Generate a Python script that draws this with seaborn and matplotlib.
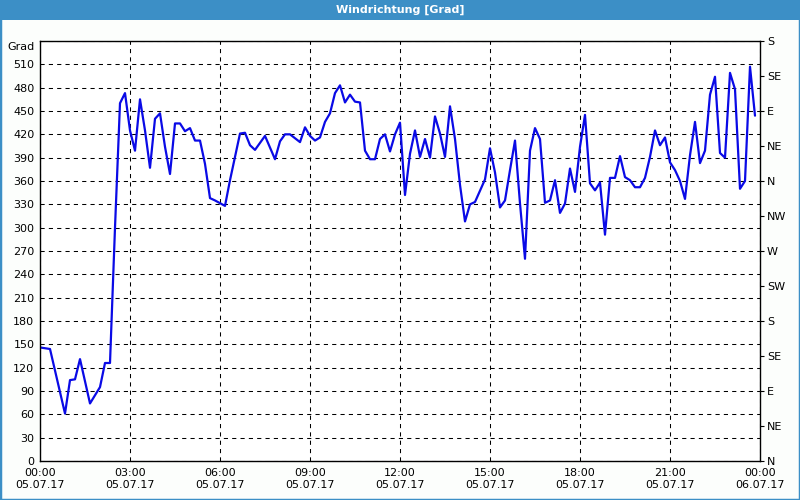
import pandas as pd
import numpy as np
import matplotlib
matplotlib.use('Agg')
import matplotlib.pyplot as plt
import matplotlib.dates as mdates
import matplotlib.transforms as mtransforms
import seaborn as sns

day = '2017-07-05'
times = ['00:00', '00:20', '00:50', '01:00', '01:10', '01:20', '01:40', '02:00', '02:10', '02:20',
         '02:30', '02:40', '02:50', '03:00', '03:10', '03:20', '03:30', '03:40', '03:50', '04:00',
         '04:10', '04:20', '04:30', '04:40', '04:50', '05:00', '05:10', '05:20', '05:30', '05:40',
         '05:50', '06:10', '06:20', '06:40', '06:50', '07:00', '07:10', '07:30', '07:50', '08:00',
         '08:10', '08:20', '08:40', '08:50', '09:00', '09:10', '09:20', '09:30', '09:40', '09:50',
         '10:00', '10:10', '10:20', '10:30', '10:40', '10:50', '11:00', '11:10', '11:20', '11:30',
         '11:40', '11:50', '12:00', '12:10', '12:20', '12:30', '12:40', '12:50', '13:00', '13:10',
         '13:20', '13:30', '13:40', '13:50', '14:00', '14:10', '14:20', '14:30', '14:50', '15:00',
         '15:10', '15:20', '15:30', '15:40', '15:50', '16:00', '16:10', '16:20', '16:30', '16:40',
         '16:50', '17:00', '17:10', '17:20', '17:30', '17:40', '17:50', '18:00', '18:10', '18:20',
         '18:30', '18:40', '18:50', '19:00', '19:10', '19:20', '19:30', '19:40', '19:50', '20:00',
         '20:10', '20:20', '20:30', '20:40', '20:50', '21:00', '21:10', '21:20', '21:30', '21:40',
         '21:50', '22:00', '22:10', '22:20', '22:30', '22:40', '22:50', '23:00', '23:10', '23:20',
         '23:30', '23:40', '23:50']
grad = [146, 144, 61, 104, 105, 131, 74, 95, 126, 126,
        300, 460, 473, 425, 399, 465, 425, 377, 440, 447,
        404, 369, 434, 434, 424, 428, 412, 412, 382, 338,
        335, 328, 361, 421, 422, 406, 400, 418, 388, 411,
        420, 420, 410, 429, 418, 412, 416, 436, 447, 473,
        483, 461, 471, 462, 461, 399, 388, 388, 414, 420,
        398, 420, 435, 342, 395, 425, 391, 414, 390, 443,
        421, 391, 456, 414, 355, 308, 330, 333, 362, 402,
        371, 326, 335, 374, 412, 331, 260, 399, 428, 414,
        332, 335, 361, 319, 331, 376, 346, 404, 445, 357,
        348, 358, 291, 364, 364, 392, 365, 361, 352, 352,
        364, 391, 425, 406, 416, 384, 374, 360, 337, 393,
        436, 383, 399, 471, 494, 396, 390, 499, 478, 350,
        360, 507, 444]

left_ticks = list(range(0, 541, 30))
left_labels = [str(v) for v in range(0, 511, 30)] + ['Grad']
compass = ['N', 'NE', 'E', 'SE', 'S', 'SW', 'W', 'NW', 'N', 'NE', 'E', 'SE', 'S']

df = pd.DataFrame({'time': pd.to_datetime([day + ' ' + t for t in times]), 'grad': grad})

sns.set_style('white')
plt.rcParams['font.family'] = ['DejaVu Sans']

fig = plt.figure(figsize=(8, 5), dpi=100, facecolor='#fcfefc')
ax = fig.add_axes([0.05, 0.078, 0.90, 0.84])
ax.set_facecolor('white')

sns.lineplot(data=df, x='time', y='grad', ax=ax, color='#0a0ae6', linewidth=1.6)

ax.set_xlim(pd.Timestamp('2017-07-05 00:00'), pd.Timestamp('2017-07-06 00:00'))
ax.set_ylim(0, 540)
ax.xaxis.set_major_locator(mdates.HourLocator(byhour=range(0, 24, 3)))
ax.xaxis.set_minor_locator(mdates.HourLocator())
ax.xaxis.set_major_formatter(mdates.DateFormatter('%H:%M\n%d.%m.%y'))
ax.set_yticks(left_ticks)
ax.set_yticklabels(left_labels)
ax.set_xlabel('')
ax.set_ylabel('')
ax.grid(True, which='major', color='black', linestyle=(0, (4, 4)), linewidth=0.75)
ax.tick_params(axis='y', length=0, labelsize=8, pad=4, colors='black')
ax.tick_params(axis='x', which='major', direction='in', length=4, labelsize=8, pad=5, colors='black')
ax.tick_params(axis='x', which='minor', direction='in', length=4, color='black')
for s in ax.spines.values():
    s.set_color('black')
    s.set_linewidth(1.0)

# push the "Grad" unit label a little below the top edge
grad_lbl = ax.get_yticklabels()[-1]
grad_lbl.set_transform(grad_lbl.get_transform() +
                       mtransforms.ScaledTranslation(0, -5 / 100, fig.dpi_scale_trans))

ax2 = ax.twinx()
ax2.set_ylim(0, 540)
ax2.set_yticks(range(0, 541, 45))
ax2.set_yticklabels(compass)
ax2.tick_params(axis='y', direction='out', length=3, labelsize=8, pad=2, colors='black')
ax2.grid(False)
for s in ax2.spines.values():
    s.set_visible(False)

fig.patches.append(plt.Rectangle((0, 0.96), 1, 0.04, transform=fig.transFigure,
                                 facecolor='#3c8fc6', edgecolor='none', zorder=0))
fig.patches.append(plt.Rectangle((0, 0), 1, 1, transform=fig.transFigure,
                                 facecolor='none', edgecolor='#3c8fc6', linewidth=2.5, zorder=0))
fig.text(0.5, 0.98, 'Windrichtung [Grad]', color='white', fontsize=8, fontweight='bold',
         ha='center', va='center')

fig.savefig('out.png', dpi=100, facecolor=fig.get_facecolor())
